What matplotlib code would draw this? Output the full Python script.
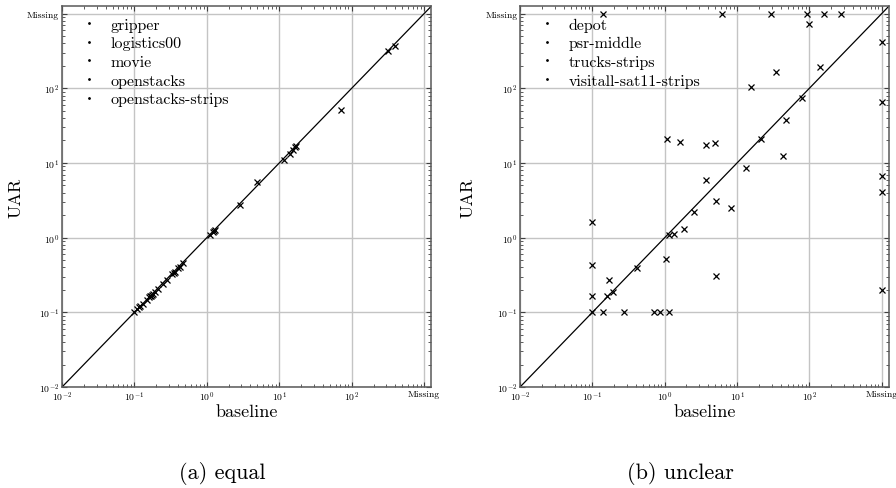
import matplotlib
matplotlib.use("Agg")
import matplotlib.pyplot as plt
from matplotlib.lines import Line2D
from matplotlib.ticker import LogLocator, FixedLocator, FixedFormatter, NullFormatter

plt.rcParams['font.family'] = 'serif'
plt.rcParams['font.serif'] = ['cmr10']
plt.rcParams['mathtext.fontset'] = 'cm'
plt.rcParams['axes.unicode_minus'] = False

MISSING = 1000.0
LIMIT = 1250.0

# (a) equal
equal_domains = ["gripper", "logistics00", "movie", "openstacks", "openstacks-strips"]
equal_baseline = [0.10, 0.11, 0.115, 0.12, 0.13, 0.15, 0.16, 0.165, 0.17, 0.175, 0.18, 0.19,
                  0.21, 0.25, 0.28, 0.33, 0.35, 0.36, 0.40, 0.43, 0.47, 1.10, 1.20, 1.25, 1.28,
                  2.83, 4.9, 11.8, 13.9, 15.5, 16.5, 17.2, 71.6, 320, 395]
equal_uar = [0.10, 0.11, 0.118, 0.12, 0.13, 0.148, 0.158, 0.163, 0.165, 0.172, 0.178, 0.186,
             0.205, 0.24, 0.27, 0.325, 0.34, 0.35, 0.39, 0.41, 0.46, 1.08, 1.18, 1.22, 1.26,
             2.73, 5.6, 11.0, 13.2, 15.0, 16.3, 17.0, 51, 312, 371]

# (b) unclear  (1000 = Missing)
unclear_domains = ["depot", "psr-middle", "trucks-strips", "visitall-sat11-strips"]
unclear_baseline = [0.14, 6.2, 29.6, 92, 158, 270, 100,
                    1000, 1000, 1000, 1000, 1000,
                    0.1, 1.08, 1.65, 3.7, 4.93, 3.7, 5.1, 8.3, 2.55, 1.84, 1.36, 1.14,
                    13.4, 21.5, 43.8, 47.8, 79.6, 15.7, 34.7, 138,
                    0.1, 1.05, 0.172, 0.415, 0.1, 0.16, 0.191, 5.1,
                    0.1, 0.14, 0.27, 0.70, 0.87, 1.16]
unclear_uar = [1000, 1000, 1000, 1000, 1000, 1000, 724,
               411, 66, 6.7, 4.04, 0.2,
               1.63, 21, 19.2, 17.2, 18.5, 5.9, 3.1, 2.49, 2.18, 1.29, 1.13, 1.09,
               8.5, 21, 12.4, 37.5, 74.6, 103, 163, 194,
               0.433, 0.518, 0.274, 0.388, 0.167, 0.164, 0.189, 0.303,
               0.1, 0.1, 0.1, 0.1, 0.1, 0.1]

fig = plt.figure(figsize=(8.96, 4.89), dpi=100)
ax1 = fig.add_axes([0.0692, 0.2065, 0.4120, 0.7785])
ax2 = fig.add_axes([0.5804, 0.2065, 0.4115, 0.7785])

major = [0.01, 0.1, 1, 10, 100, MISSING]
labels = [r'$10^{-2}$', r'$10^{-1}$', r'$10^{0}$', r'$10^{1}$', r'$10^{2}$', 'Missing']

def style(ax, xs, ys, domains, ylab_x):
    ax.set_xscale('log')
    ax.set_yscale('log')
    ax.set_xlim(0.01, LIMIT)
    ax.set_ylim(0.01, LIMIT)
    ax.plot([0.01, LIMIT], [0.01, LIMIT], color='black', lw=0.9, zorder=2)
    ax.plot(xs, ys, linestyle='none', marker='x', color='black', markersize=4,
            markeredgewidth=0.9, zorder=3, clip_on=False)
    for axis in (ax.xaxis, ax.yaxis):
        axis.set_major_locator(FixedLocator(major))
        axis.set_major_formatter(FixedFormatter(labels))
        axis.set_minor_locator(LogLocator(base=10, subs=range(2, 10), numticks=20))
        axis.set_minor_formatter(NullFormatter())
    ax.tick_params(which='both', direction='in', top=True, right=True, labelsize=7,
                   color='0.25', pad=2)
    ax.tick_params(which='major', length=3.5, width=0.8)
    ax.tick_params(which='minor', length=2, width=0.6)
    ax.grid(True, which='major', color='#c4c4c4', lw=1.0)
    ax.set_axisbelow(True)
    for sp in ax.spines.values():
        sp.set_color('0.35')
        sp.set_linewidth(1.1)
    ax.set_xlabel('baseline', fontsize=13, labelpad=0)
    ax.set_ylabel('UAR', fontsize=13)
    ax.yaxis.set_label_coords(ylab_x, 0.5)
    handles = [Line2D([], [], linestyle='none', marker='.', markersize=2, color='black')
               for _ in domains]
    ax.legend(handles, domains, loc='upper left', frameon=False, fontsize=11.5,
              handlelength=1.5, handletextpad=0.63, labelspacing=0.28,
              bbox_to_anchor=(0.01, 1.0), borderaxespad=0.3)

style(ax1, equal_baseline, equal_uar, equal_domains, -0.105)
style(ax2, unclear_baseline, unclear_uar, unclear_domains, -0.12)

fig.text(0.2475, 0.031, '(a) equal', fontsize=16, ha='center', va='center')
fig.text(0.759, 0.031, '(b) unclear', fontsize=16, ha='center', va='center')

fig.savefig('out.png', dpi=100)
